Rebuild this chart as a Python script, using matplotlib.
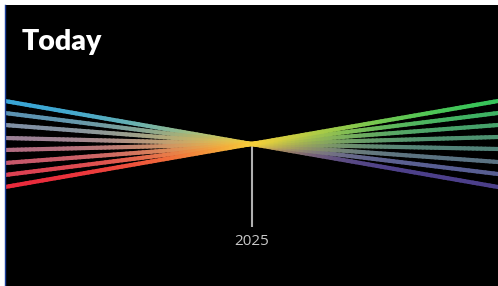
import numpy as np
import matplotlib
matplotlib.use("Agg")
import matplotlib.pyplot as plt
from matplotlib.collections import LineCollection
from matplotlib.colors import to_rgb
from matplotlib.lines import Line2D

# ---------------------------------------------------------------------------
# Data
# ---------------------------------------------------------------------------

YEAR_START = 2000
YEAR_NOW   = 2025
YEAR_END   = 2050
VALUE_NOW  = 0

# values at the left (past) and right (future) edges, top to bottom
left_values  = [43, 31, 19, 6, -6, -19, -31, -43]
right_values = [43, 31, 19, 7, -5, -18, -30, -43]

left_colors  = ["#3aa6d6", "#5b93b2", "#8090a4", "#9c8196", "#b26c80",
                "#c8586a", "#dc4152", "#ea2a3c"]
right_colors = ["#36c45a", "#3eb263", "#46a26a", "#4e9270", "#528278",
                "#5a7282", "#585e92", "#4c3f8a"]
center_color = "#f7cf3a"

TITLE = "Today"
LABEL = "2025"

# ---------------------------------------------------------------------------
# Plot
# ---------------------------------------------------------------------------

W, H = 498, 286
fig = plt.figure(figsize=(W / 100, H / 100), dpi=100, facecolor="white")
ax = fig.add_axes([5 / W, 0, (W - 5) / W, (H - 5) / H], facecolor="black")
ax.set_xlim(YEAR_START, YEAR_END)
ax.set_ylim(-142, 139)
ax.axis("off")
ax.add_patch(plt.Rectangle((0, 0), 1, 1, transform=ax.transAxes,
                           color="black", zorder=0))

# thin blue rule on the left edge
fig.add_artist(Line2D([4.5 / W, 4.5 / W], [0, (H - 5) / H],
                      color="#1c3f9a", lw=1.0))


def gradient_line(x0, y0, c_edge, power):
    n = 60
    t = np.linspace(0, 1, n)
    xs = x0 + (YEAR_NOW - x0) * t
    ys = y0 + (VALUE_NOW - y0) * t
    pts = np.column_stack([xs, ys]).reshape(-1, 1, 2)
    segs = np.concatenate([pts[:-1], pts[1:]], axis=1)
    tm = (t[:-1] + t[1:]) / 2
    w = (tm ** power)[:, None]
    cols = (1 - w) * np.array(to_rgb(c_edge)) + w * np.array(to_rgb(center_color))
    lc = LineCollection(segs, colors=cols, linewidths=3.0, capstyle="round")
    ax.add_collection(lc)


for i, (v, c) in enumerate(zip(left_values, left_colors)):
    gradient_line(YEAR_START, v, c, 2.2)

for i, (v, c) in reversed(list(enumerate(zip(right_values, right_colors)))):
    gradient_line(YEAR_END, v, c, 1.6 + 0.5 * i)

# marker for the current year
ax.plot([YEAR_NOW, YEAR_NOW], [VALUE_NOW - 1, -83], color="#b0b0b0",
        lw=1.5, zorder=1, solid_capstyle="butt")
ax.text(YEAR_NOW + 0.05, -97, LABEL, color="#c8c8c8", fontsize=11,
        family="Open Sans", ha="center", va="center")

fig.text(22 / W, 1 - 42 / H, TITLE, color="white", fontsize=20.5,
         fontweight="heavy", family="Lato", ha="left", va="center")

fig.savefig("out.png", dpi=100, facecolor="white")
